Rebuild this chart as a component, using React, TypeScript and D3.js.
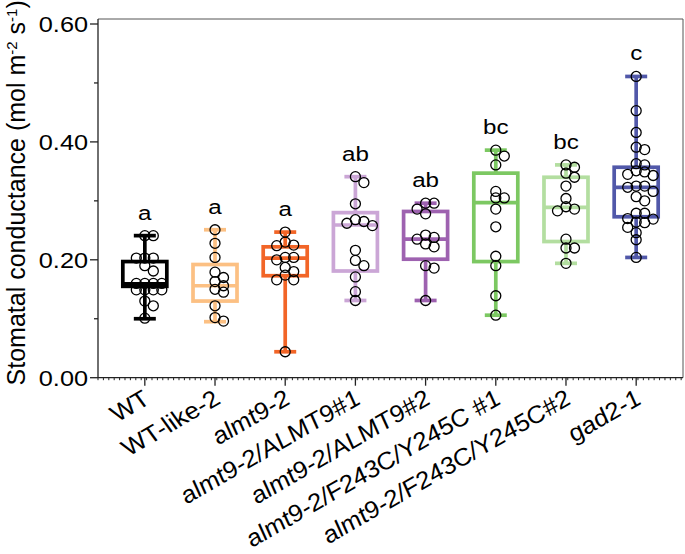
import React from 'react';
import * as d3 from 'd3';

// groups, colours and significance letters
const groups = [
  'WT',
  'WT-like-2',
  'almt9-2',
  'almt9-2/ALMT9#1',
  'almt9-2/ALMT9#2',
  'almt9-2/F243C/Y245C #1',
  'almt9-2/F243C/Y245C#2',
  'gad2-1'
];
const colors = ['#000000', '#fcc083', '#f26527', '#cba6d6', '#9e62b0', '#7cc862', '#b3dea0', '#5158a9'];
const letters = ['a', 'a', 'a', 'ab', 'ab', 'bc', 'bc', 'c'];

// box statistics
const whiskerLow = [0.1, 0.095, 0.044, 0.131, 0.131, 0.106, 0.194, 0.204];
const q1 = [0.155, 0.13, 0.173, 0.181, 0.201, 0.197, 0.231, 0.273];
const medians = [0.159, 0.156, 0.203, 0.259, 0.235, 0.297, 0.289, 0.323];
const q3 = [0.197, 0.192, 0.222, 0.28, 0.282, 0.347, 0.34, 0.357];
const whiskerHigh = [0.241, 0.251, 0.247, 0.341, 0.296, 0.386, 0.361, 0.511];

// individual measurements
const wt = [0.241, 0.241, 0.203, 0.203, 0.203, 0.19, 0.181, 0.16, 0.16, 0.16, 0.16, 0.149, 0.149, 0.149, 0.149, 0.13, 0.122, 0.101];
const wtLike = [0.251, 0.228, 0.204, 0.179, 0.17, 0.163, 0.156, 0.15, 0.145, 0.122, 0.102, 0.096];
const almt9 = [0.247, 0.23, 0.224, 0.225, 0.204, 0.204, 0.2, 0.187, 0.18, 0.174, 0.166, 0.166, 0.044];
const comp1 = [0.341, 0.331, 0.295, 0.268, 0.265, 0.262, 0.258, 0.216, 0.199, 0.19, 0.171, 0.146, 0.131];
const comp2 = [0.296, 0.296, 0.286, 0.278, 0.242, 0.238, 0.235, 0.227, 0.222, 0.19, 0.186, 0.131];
const mut1 = [0.386, 0.376, 0.361, 0.316, 0.305, 0.305, 0.286, 0.256, 0.206, 0.19, 0.139, 0.106];
const mut2 = [0.361, 0.357, 0.347, 0.34, 0.325, 0.304, 0.29, 0.286, 0.283, 0.235, 0.22, 0.22, 0.194];
const gad2 = [
  0.511, 0.453, 0.416, 0.391, 0.387, 0.363, 0.361, 0.351, 0.349, 0.345, 0.343, 0.325, 0.325, 0.323, 0.316, 0.307,
  0.3, 0.279, 0.279, 0.27, 0.269, 0.264, 0.263, 0.255, 0.246, 0.234, 0.204
];
const points = [wt, wtLike, almt9, comp1, comp2, mut1, mut2, gad2];

const yTicks = [0, 0.2, 0.4, 0.6];
const yMinor = [0.1, 0.3, 0.5];

const font = "'Liberation Sans', Arial, sans-serif";

export default function App() {
  let left = 98,
    right = 683,
    bottom = 377.7,
    top = 24,
    r = 5,
    boxHalf = 22,
    capHalf = 11,
    wide = 1.15; // the original's lettering is a bit wider than Arial

  const x = d3.scalePoint().domain(groups).range([left, right]).padding(0.667);
  const y = d3.scaleLinear().domain([0, 0.6]).range([bottom, top]);
  const step = x.step();

  // simple dodge so circles sit side by side like the original
  const placed = points.map((vals, gi) => {
    const cx = x(groups[gi]);
    const done = [];
    vals
      .slice()
      .sort((a, b) => b - a)
      .forEach(v => {
        const cy = y(v);
        for (let k = 0; k < 20; k++) {
          const off = k === 0 ? 0 : Math.ceil(k / 2) * 8.5 * (k % 2 ? 1 : -1);
          const hit = done.some(p => Math.hypot(p.x - (cx + off), p.y - cy) < 6);
          if (!hit) {
            done.push({ x: cx + off, y: cy });
            break;
          }
        }
      });
    return done;
  });

  const minorX = d3.range(left, right, step / 13);

  return (
    <svg width={685} height={554} style={{ position: 'absolute', left: 0, top: 0 }}>
      <rect width={685} height={554} fill="#fff" />
      {/* frame */}
      <path d={`M${left},${top - 5} H${right} V${bottom}`} fill="none" stroke="#555" strokeWidth={1} />
      <line x1={left} x2={left} y1={top - 5} y2={bottom} stroke="#222" strokeWidth={1.3} />
      <line x1={left} x2={right} y1={bottom} y2={bottom} stroke="#222" strokeWidth={1.3} />
      {minorX.map((mx, i) => (
        <line key={i} x1={mx} x2={mx} y1={bottom} y2={bottom + 2.5} stroke="#222" strokeWidth={1} />
      ))}
      {groups.map(g => (
        <line key={g} x1={x(g)} x2={x(g)} y1={bottom} y2={bottom + 8} stroke="#222" strokeWidth={1.3} />
      ))}
      {/* y axis */}
      {yTicks.map(t => (
        <g key={t}>
          <line x1={left - 8} x2={left} y1={y(t)} y2={y(t)} stroke="#222" strokeWidth={1.3} />
          <text
            transform={`translate(${left - 10},${y(t)}) scale(${wide},1)`}
            dy="0.36em"
            textAnchor="end"
            fontFamily={font}
            fontSize={22}
          >
            {t.toFixed(2)}
          </text>
        </g>
      ))}
      {yMinor.map(t => (
        <line key={t} x1={left - 4} x2={left} y1={y(t)} y2={y(t)} stroke="#222" strokeWidth={1.3} />
      ))}
      <text transform={`translate(25,${bottom / 2 + 4}) rotate(-90)`} textAnchor="middle" fontFamily={font} fontSize={25}>
        Stomatal conductance (mol m
        <tspan baselineShift="super" fontSize={15}>-2</tspan> s
        <tspan baselineShift="super" fontSize={15}>-1</tspan>)
      </text>

      {/* boxes */}
      {groups.map((g, i) => {
        const cx = x(g),
          c = colors[i];
        return (
          <g key={g} stroke={c} strokeWidth={3.7} fill="none">
            <line x1={cx} x2={cx} y1={y(whiskerHigh[i])} y2={y(q3[i])} />
            <line x1={cx} x2={cx} y1={y(q1[i])} y2={y(whiskerLow[i])} />
            <line x1={cx - capHalf} x2={cx + capHalf} y1={y(whiskerHigh[i])} y2={y(whiskerHigh[i])} />
            <line x1={cx - capHalf} x2={cx + capHalf} y1={y(whiskerLow[i])} y2={y(whiskerLow[i])} />
            <rect x={cx - boxHalf} y={y(q3[i])} width={boxHalf * 2} height={y(q1[i]) - y(q3[i])} />
            <line x1={cx - boxHalf} x2={cx + boxHalf} y1={y(medians[i])} y2={y(medians[i])} />
          </g>
        );
      })}
      {/* points */}
      {placed.map((ps, gi) =>
        ps.map((p, j) => <circle key={gi + '-' + j} cx={p.x} cy={p.y} r={r} fill="none" stroke="#000" strokeWidth={1.3} />)
      )}
      {/* letters */}
      {groups.map((g, i) => (
        <text
          key={g}
          transform={`translate(${x(g)},${y(whiskerHigh[i]) - 16}) scale(${wide},1)`}
          textAnchor="middle"
          fontFamily={font}
          fontSize={21}
        >
          {letters[i]}
        </text>
      ))}
      {/* x labels */}
      {groups.map(g => (
        <text
          key={g}
          transform={`translate(${x(g) + 7},${bottom + 25}) scale(1.12,1) rotate(-33)`}
          textAnchor="end"
          fontFamily={font}
          fontStyle={g.startsWith('WT') ? 'normal' : 'italic'}
          fontSize={23.5}
        >
          {g}
        </text>
      ))}
    </svg>
  );
}
